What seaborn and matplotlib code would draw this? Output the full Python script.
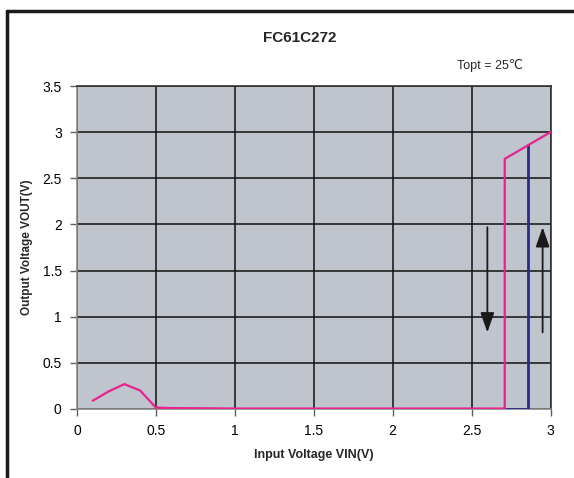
import matplotlib
matplotlib.use("Agg")
import matplotlib.pyplot as plt
import seaborn as sns
import pandas as pd
from matplotlib.lines import Line2D

# Data
vin_rise = [0.1, 0.2, 0.3, 0.4, 0.5, 0.6, 0.8, 1.0, 1.5, 2.0, 2.5, 2.71, 2.71, 3.0]
vout_rise = [0.09, 0.19, 0.27, 0.2, 0.015, 0.01, 0.008, 0.005, 0.005, 0.005, 0.005, 0.005, 2.71, 3.0]
vin_fall = [2.71, 2.86, 2.86]
vout_fall = [0.005, 0.005, 2.86]
xticks = [0, 0.5, 1, 1.5, 2, 2.5, 3]
yticks = [0, 0.5, 1, 1.5, 2, 2.5, 3, 3.5]
title = "FC61C272"
note = "Topt = 25\u2103"

sns.set_theme(style="white")
plt.rcParams['font.family'] = ['Liberation Sans', 'DejaVu Sans']

fig = plt.figure(figsize=(5.74, 4.78), dpi=100)
ax = fig.add_axes([77/574, 1-409/478, (550.5-77)/574, (409-86)/478])
ax.set_facecolor('#c0c4cc')

df_r = pd.DataFrame({'x': vin_rise, 'y': vout_rise})
df_f = pd.DataFrame({'x': vin_fall, 'y': vout_fall})
sns.lineplot(data=df_f, x='x', y='y', sort=False, estimator=None, color='#2a2a8c', lw=2, ax=ax, zorder=3)
sns.lineplot(data=df_r, x='x', y='y', sort=False, estimator=None, color='#e8238f', lw=1.6, ax=ax, zorder=4)

ax.set_xlim(0, 3)
ax.set_ylim(0, 3.5)
ax.set_xticks(xticks)
ax.set_xticklabels([f"{t:g}" for t in xticks], fontsize=10)
ax.set_yticks(yticks)
ax.set_yticklabels([f"{t:g}" for t in yticks], fontsize=10)
ax.grid(True, color='#111111', lw=1.1)
ax.set_axisbelow(True)
ax.tick_params(axis='both', which='both', direction='out', length=5, width=1, color='#606060',
               bottom=True, left=True, pad=6, labelcolor='black')
for side in ['left', 'bottom']:
    ax.spines[side].set_color('#888888')
    ax.spines[side].set_linewidth(1.2)
for side in ['right', 'top']:
    ax.spines[side].set_color('#333333')
    ax.spines[side].set_linewidth(1.2)

ax.set_xlabel("Input Voltage VIN(V)", fontsize=9, fontweight='bold', labelpad=8)
ax.set_ylabel("Output Voltage VOUT(V)", fontsize=8.5, fontweight='bold', labelpad=7)

# Arrows
ax.annotate('', xy=(2.6, 0.8), xytext=(2.6, 2.0),
            arrowprops=dict(arrowstyle='-|>,head_width=0.35,head_length=1.0', color='#1a1a1a', lw=1.3))
ax.annotate('', xy=(2.95, 2.0), xytext=(2.95, 0.8),
            arrowprops=dict(arrowstyle='-|>,head_width=0.35,head_length=1.0', color='#1a1a1a', lw=1.3))

fig.text(300/574, 1-38/478, title, ha='center', va='center', fontsize=11, fontweight='bold')
fig.text(490/574, 1-65/478, note, ha='center', va='center', fontsize=9)

# figure frame (left and top)
fig.add_artist(Line2D([6.5/574, 6.5/574], [0, 1-11/478], transform=fig.transFigure, color='#1a1a1a', lw=2.5))
fig.add_artist(Line2D([6.5/574, 1], [1-11/478, 1-11/478], transform=fig.transFigure, color='#1a1a1a', lw=2.5))

fig.savefig("out.png", dpi=100)
